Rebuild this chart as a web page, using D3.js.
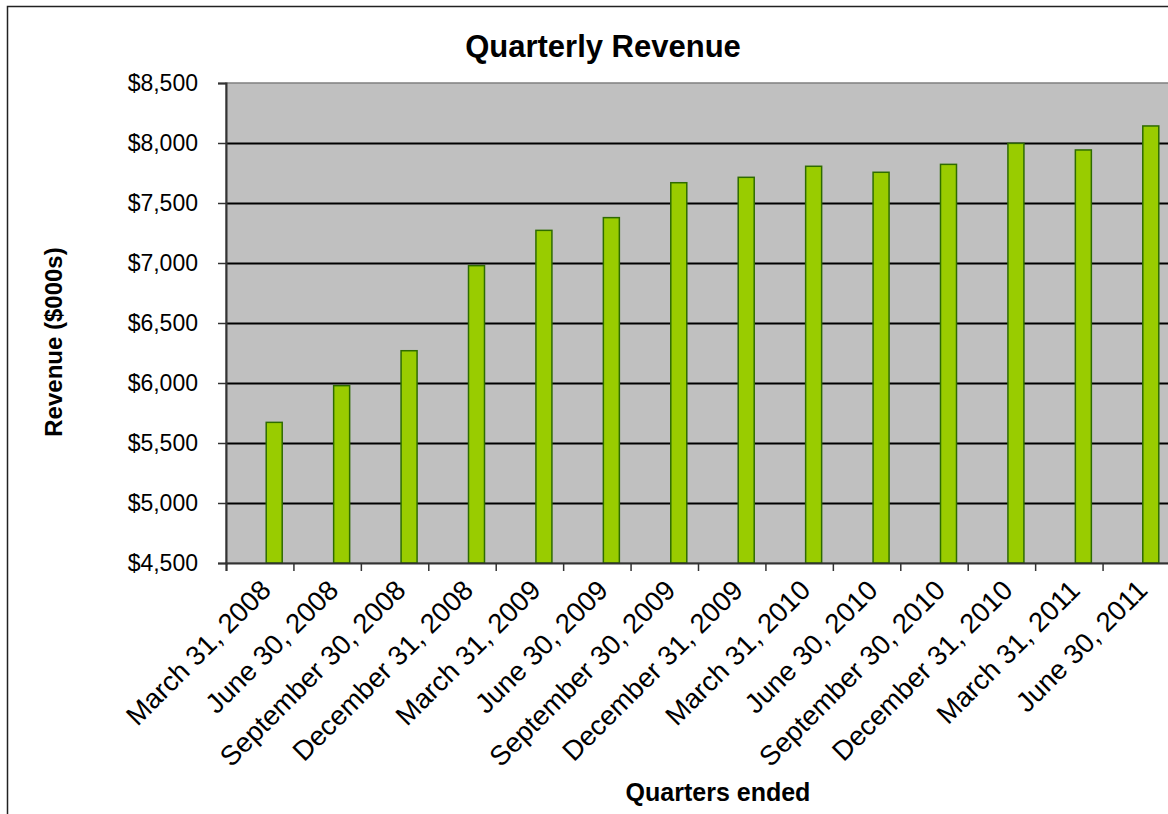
<!DOCTYPE html>
<html>
<head>
<meta charset="utf-8">
<script src="https://cdn.jsdelivr.net/npm/d3@7"></script>
<style>
  body { margin: 0; background: #fff; }
  svg { display: block; font-family: "Liberation Sans", Arial, sans-serif; }
</style>
</head>
<body>
<div class="container"></div>
<script>
// data
var quarters = [
  "March 31, 2008", "June 30, 2008", "September 30, 2008", "December 31, 2008",
  "March 31, 2009", "June 30, 2009", "September 30, 2009", "December 31, 2009",
  "March 31, 2010", "June 30, 2010", "September 30, 2010", "December 31, 2010",
  "March 31, 2011", "June 30, 2011"
];
var revenue = [5672, 5978, 6269, 6978, 7272, 7378, 7669, 7714, 7806, 7756, 7822, 7997, 7942, 8142];
var yTicks = [4500, 5000, 5500, 6000, 6500, 7000, 7500, 8000, 8500];

const WIDTH = 1168;
const HEIGHT = 814;
const PLOT_LEFT = 226;
const PLOT_RIGHT = 1170;
const PLOT_TOP = 83;
const PLOT_BOTTOM = 563;
const BAR_W = 16;
const BAR_SHIFT = 14.5;   // bars sit right of the category centre, as in the original

var translate = function(x, y){
  return "translate(" + x + "," + y + ")";
};

var _xScale = d3.scaleBand()
  .domain(quarters)
  .range([PLOT_LEFT, PLOT_RIGHT]);

var _xTickScale = d3.scaleLinear()
  .domain([0, quarters.length])
  .range([PLOT_LEFT, PLOT_RIGHT]);

var _yScale = d3.scaleLinear()
  .domain([4500, 8500])
  .range([PLOT_BOTTOM, PLOT_TOP]);

var money = function(d){ return "$" + d3.format(",")(d); };

var loadChart = function(){
  var svg = d3.select(".container").append("svg")
    .attr("width", WIDTH)
    .attr("height", HEIGHT);

  // outer chart border (right and bottom run off the picture)
  svg.append("rect")
    .attr("x", 7.5).attr("y", 6.5)
    .attr("width", WIDTH + 20).attr("height", HEIGHT + 20)
    .attr("fill", "#fff")
    .attr("stroke", "#222")
    .attr("stroke-width", 1.5);

  // plot area
  svg.append("rect")
    .attr("x", PLOT_LEFT).attr("y", PLOT_TOP)
    .attr("width", PLOT_RIGHT - PLOT_LEFT).attr("height", PLOT_BOTTOM - PLOT_TOP)
    .attr("fill", "#c0c0c0")
    .attr("stroke", "#808080")
    .attr("stroke-width", 1.5);

  // gridlines
  var grid = svg.append("g")
    .attr("transform", translate(PLOT_LEFT, 0))
    .call(d3.axisLeft(_yScale).tickValues(yTicks.slice(1, -1)).tickSize(-(PLOT_RIGHT - PLOT_LEFT)).tickFormat(""));
  grid.select(".domain").remove();
  grid.selectAll("line").attr("stroke", "#000").attr("stroke-width", 1.8);

  // bars
  svg.append("g").selectAll("rect")
    .data(revenue)
    .enter().append("rect")
    .attr("x", function(d, i){ return _xScale(quarters[i]) + _xScale.bandwidth() / 2 + BAR_SHIFT - BAR_W / 2; })
    .attr("y", function(d){ return _yScale(d); })
    .attr("width", BAR_W)
    .attr("height", function(d){ return PLOT_BOTTOM - _yScale(d); })
    .attr("fill", "#99cc00")
    .attr("stroke", "#2e6b00")
    .attr("stroke-width", 1.5);

  // y axis
  var yAxis = svg.append("g")
    .attr("transform", translate(PLOT_LEFT, 0))
    .call(d3.axisLeft(_yScale).tickValues(yTicks).tickSize(8).tickPadding(20).tickFormat(money));
  yAxis.select(".domain").attr("stroke", "#333").attr("stroke-width", 2);
  yAxis.selectAll("line").attr("stroke", "#333").attr("stroke-width", 1.5);
  yAxis.selectAll("text")
    .attr("font-size", 23)
    .attr("fill", "#000")
    .attr("font-family", "Liberation Sans, Arial, sans-serif");

  // x axis: ticks sit between categories
  var xAxis = svg.append("g")
    .attr("transform", translate(0, PLOT_BOTTOM))
    .call(d3.axisBottom(_xTickScale).ticks(quarters.length).tickSize(8).tickFormat(""));
  xAxis.select(".domain").attr("stroke", "#333").attr("stroke-width", 2);
  xAxis.selectAll("line").attr("stroke", "#333").attr("stroke-width", 1.5);

  // rotated category labels
  svg.append("g").selectAll("text")
    .data(quarters)
    .enter().append("text")
    .attr("transform", function(d){
      return translate(_xScale(d) + _xScale.bandwidth() / 2 + 6, PLOT_BOTTOM + 22) + " rotate(-45)";
    })
    .attr("text-anchor", "end")
    .attr("dy", "0.35em")
    .attr("font-size", 27.5)
    .text(function(d){ return d; });

  // title
  svg.append("text")
    .attr("x", 603).attr("y", 57)
    .attr("text-anchor", "middle")
    .attr("font-size", 31)
    .attr("font-weight", "bold")
    .text("Quarterly Revenue");

  // axis titles
  svg.append("text")
    .attr("transform", translate(62, 342) + " rotate(-90)")
    .attr("text-anchor", "middle")
    .attr("font-size", 24)
    .attr("font-weight", "bold")
    .text("Revenue ($000s)");

  svg.append("text")
    .attr("x", 718).attr("y", 801)
    .attr("text-anchor", "middle")
    .attr("font-size", 25)
    .attr("font-weight", "bold")
    .text("Quarters ended");
};

window.onload = loadChart;
</script>
</body>
</html>
